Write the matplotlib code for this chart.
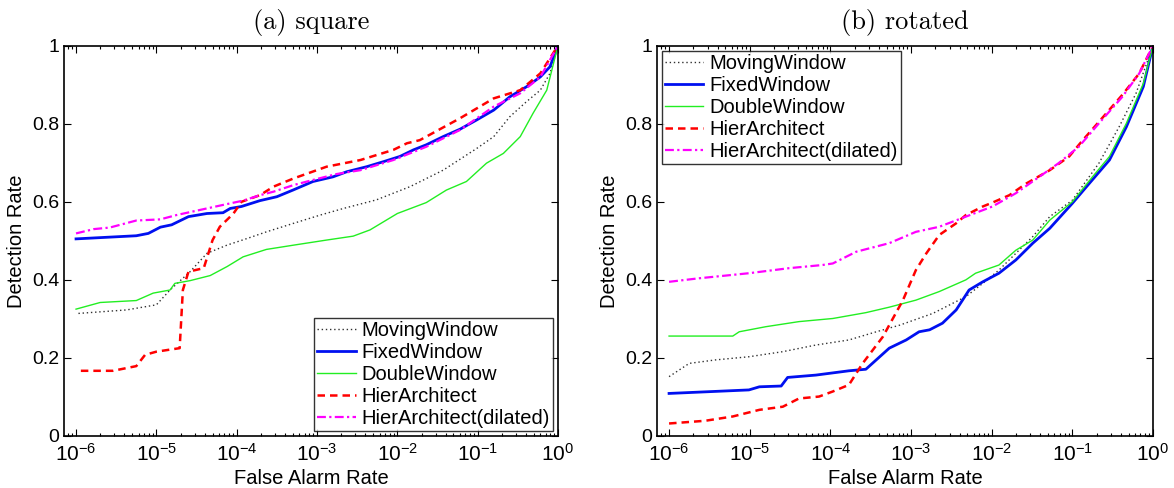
import numpy as np
import matplotlib
matplotlib.use("Agg")
import matplotlib.pyplot as plt
from matplotlib.ticker import (LogLocator, FixedLocator, FuncFormatter, NullFormatter,
                               LogFormatterSciNotation)

plt.rcParams['font.family'] = ['Liberation Sans', 'DejaVu Sans']
plt.rcParams['mathtext.fontset'] = 'custom'
plt.rcParams['mathtext.rm'] = 'Liberation Sans'
plt.rcParams['mathtext.it'] = 'Liberation Sans:italic'
plt.rcParams['axes.unicode_minus'] = True

# ROC curves, false alarm rate stored as log10 exponent, detection rate as is
names = ["MovingWindow", "FixedWindow", "DoubleWindow", "HierArchitect", "HierArchitect(dilated)"]
far_ticks = [1e-6, 1e-5, 1e-4, 1e-3, 1e-2, 1e-1, 1e0]
det_ticks = [0, 0.2, 0.4, 0.6, 0.8, 1.0]

# (a) square
sq_moving_x = [-5.97, -5.37, -5.0, -4.83, -4.58, -4.37, -4.12, -3.87, -3.63, -3.29, -2.96, -2.67,
               -2.26, -1.84, -1.43, -1.01, -0.80, -0.60, -0.39, -0.22, -0.10, 0.0]
sq_moving_y = [0.314, 0.323, 0.336, 0.374, 0.421, 0.468, 0.489, 0.506, 0.523, 0.545, 0.566, 0.583,
               0.605, 0.639, 0.681, 0.737, 0.767, 0.818, 0.857, 0.886, 0.929, 1.0]

sq_fixed_x = [-6.0, -5.25, -5.10, -4.95, -4.81, -4.60, -4.37, -4.17, -4.08, -3.94, -3.71, -3.50,
              -3.30, -3.05, -2.80, -2.63, -2.38, -2.17, -1.97, -1.80, -1.64, -1.43, -1.22, -1.01,
              -0.80, -0.60, -0.39, -0.22, -0.10, 0.0]
sq_fixed_y = [0.505, 0.513, 0.519, 0.535, 0.541, 0.562, 0.570, 0.572, 0.583, 0.588, 0.603, 0.613,
              0.630, 0.652, 0.664, 0.677, 0.690, 0.703, 0.716, 0.733, 0.746, 0.767, 0.786, 0.810,
              0.835, 0.869, 0.895, 0.920, 0.946, 1.0]

sq_double_x = [-6.0, -5.70, -5.25, -5.04, -4.83, -4.77, -4.58, -4.33, -4.12, -3.92, -3.63, -3.29,
               -2.88, -2.55, -2.34, -2.0, -1.64, -1.39, -1.14, -0.89, -0.68, -0.47, -0.31, -0.14, 0.0]
sq_double_y = [0.325, 0.342, 0.347, 0.366, 0.374, 0.391, 0.398, 0.411, 0.434, 0.459, 0.478, 0.489,
               0.502, 0.512, 0.528, 0.570, 0.598, 0.630, 0.652, 0.699, 0.724, 0.767, 0.827, 0.886, 1.0]

sq_hier_x = [-5.94, -5.54, -5.25, -5.14, -5.0, -4.71, -4.67, -4.60, -4.41, -4.30, -4.21, -4.04,
             -3.94, -3.71, -3.54, -3.29, -2.88, -2.46, -2.05, -1.88, -1.72, -1.22, -0.80, -0.47,
             -0.22, 0.0]
sq_hier_y = [0.167, 0.167, 0.179, 0.208, 0.216, 0.225, 0.374, 0.421, 0.430, 0.502, 0.536, 0.570,
             0.600, 0.617, 0.639, 0.660, 0.690, 0.707, 0.733, 0.750, 0.758, 0.814, 0.865, 0.886,
             0.929, 1.0]

sq_dilated_x = [-6.0, -5.78, -5.58, -5.25, -4.95, -4.75, -4.46, -4.17, -3.92, -3.71, -3.54, -3.29,
                -3.05, -2.76, -2.46, -2.05, -1.64, -1.22, -0.80, -0.47, -0.22, 0.0]
sq_dilated_y = [0.519, 0.530, 0.534, 0.552, 0.555, 0.566, 0.579, 0.592, 0.603, 0.617, 0.626, 0.643,
                0.656, 0.671, 0.681, 0.707, 0.741, 0.784, 0.844, 0.878, 0.920, 1.0]

# (b) rotated
rot_moving_x = [-6.0, -5.75, -5.42, -5.01, -4.59, -4.18, -3.77, -3.43, -3.14, -2.73, -2.32, -2.11,
                -1.91, -1.70, -1.49, -1.28, -1.0, -0.67, -0.42, -0.21, 0.0]
rot_moving_y = [0.152, 0.186, 0.195, 0.203, 0.216, 0.233, 0.246, 0.267, 0.284, 0.314, 0.357, 0.391,
                0.425, 0.468, 0.511, 0.562, 0.604, 0.699, 0.792, 0.878, 1.0]

rot_fixed_x = [-6.0, -5.01, -4.88, -4.61, -4.53, -4.18, -3.77, -3.56, -3.27, -3.06, -2.90, -2.77,
               -2.61, -2.44, -2.28, -2.11, -1.91, -1.70, -1.49, -1.28, -1.0, -0.79, -0.54, -0.33,
               -0.12, 0.0]
rot_fixed_y = [0.109, 0.118, 0.126, 0.128, 0.150, 0.156, 0.167, 0.171, 0.225, 0.246, 0.267, 0.272,
               0.289, 0.323, 0.374, 0.395, 0.417, 0.451, 0.494, 0.532, 0.596, 0.647, 0.707, 0.792,
               0.895, 1.0]

rot_double_x = [-6.0, -5.21, -5.13, -4.80, -4.39, -3.97, -3.56, -3.27, -2.94, -2.65, -2.32, -2.20,
                -1.91, -1.70, -1.49, -1.28, -1.0, -0.75, -0.54, -0.33, -0.12, 0.0]
rot_double_y = [0.256, 0.256, 0.267, 0.280, 0.293, 0.301, 0.316, 0.330, 0.348, 0.370, 0.400, 0.417,
                0.438, 0.476, 0.502, 0.553, 0.600, 0.664, 0.716, 0.801, 0.903, 1.0]

rot_hier_x = [-6.0, -5.55, -5.21, -4.88, -4.59, -4.39, -4.14, -3.97, -3.77, -3.60, -3.35, -3.10,
              -2.94, -2.81, -2.65, -2.44, -2.32, -2.11, -1.99, -1.78, -1.57, -1.28, -1.04, -0.87,
              -0.67, -0.38, -0.17, 0.0]
rot_hier_y = [0.032, 0.039, 0.050, 0.067, 0.075, 0.096, 0.101, 0.114, 0.131, 0.186, 0.254, 0.348,
              0.425, 0.468, 0.515, 0.545, 0.566, 0.588, 0.598, 0.617, 0.647, 0.681, 0.716, 0.758,
              0.805, 0.874, 0.929, 1.0]

rot_dilated_x = [-6.0, -5.63, -5.01, -4.51, -4.10, -3.97, -3.68, -3.27, -2.94, -2.65, -2.32, -1.99,
                 -1.70, -1.41, -1.17, -0.92, -0.67, -0.38, -0.17, 0.0]
rot_dilated_y = [0.395, 0.404, 0.417, 0.430, 0.438, 0.442, 0.472, 0.494, 0.523, 0.536, 0.562, 0.588,
                 0.622, 0.664, 0.699, 0.741, 0.801, 0.869, 0.929, 1.0]

styles = [
    dict(color='#303030', linestyle=(0, (1, 2)), linewidth=1.0),
    dict(color='#0010f0', linestyle='-', linewidth=2.0),
    dict(color='#22ee22', linestyle='-', linewidth=1.0),
    dict(color='#ff0000', linestyle=(0, (3, 2)), linewidth=1.8),
    dict(color='#ff00ff', linestyle=(0, (4, 1.5, 1, 1.5)), linewidth=1.6),
]

panels = [
    ("(a) square", [(sq_moving_x, sq_moving_y), (sq_fixed_x, sq_fixed_y), (sq_double_x, sq_double_y),
                    (sq_hier_x, sq_hier_y), (sq_dilated_x, sq_dilated_y)], 'lower right'),
    ("(b) rotated", [(rot_moving_x, rot_moving_y), (rot_fixed_x, rot_fixed_y), (rot_double_x, rot_double_y),
                     (rot_hier_x, rot_hier_y), (rot_dilated_x, rot_dilated_y)], 'upper left'),
]

fig = plt.figure(figsize=(11.74, 4.88), dpi=100)
positions = [[0.0545, 0.1066, 0.4208, 0.7998], [0.5596, 0.1066, 0.4225, 0.7998]]

for pos, (title, series, loc) in zip(positions, panels):
    ax = fig.add_axes(pos)
    for (xs, ys), name, st in zip(series, names, styles):
        ax.plot(10.0 ** np.array(xs), ys, label=name, **st)
    ax.set_xscale('log')
    ax.set_xlim(10 ** -6.15, 1)
    ax.set_ylim(0, 1)
    ax.xaxis.set_major_locator(FixedLocator(far_ticks))
    ax.xaxis.set_major_formatter(LogFormatterSciNotation())
    ax.xaxis.set_minor_locator(LogLocator(base=10, subs=np.arange(2, 10), numticks=20))
    ax.xaxis.set_minor_formatter(NullFormatter())
    ax.yaxis.set_major_locator(FixedLocator(det_ticks))
    ax.yaxis.set_major_formatter(FuncFormatter(lambda v, p: f"{v:g}"))
    ax.tick_params(which='both', direction='in', top=True, right=True, width=0.8)
    ax.tick_params(axis='y', labelsize=14)
    ax.tick_params(axis='x', labelsize=15, pad=5)
    ax.tick_params(which='major', length=5)
    ax.tick_params(which='minor', length=2.5)
    for s in ax.spines.values():
        s.set_linewidth(1.2)
    ax.set_xlabel("False Alarm Rate", fontsize=14.5, labelpad=3)
    ax.set_ylabel("Detection Rate", fontsize=14.5, labelpad=4)
    ax.set_title(title, fontsize=19, family='cmr10', pad=12)
    leg = ax.legend(loc=loc, fontsize=14.5, frameon=True, fancybox=False, edgecolor='black',
                    handlelength=1.9, handletextpad=0.3, borderpad=0.15, labelspacing=0.15,
                    borderaxespad=0.25)
    leg.get_frame().set_linewidth(1.0)

fig.savefig("out.png", dpi=100)
